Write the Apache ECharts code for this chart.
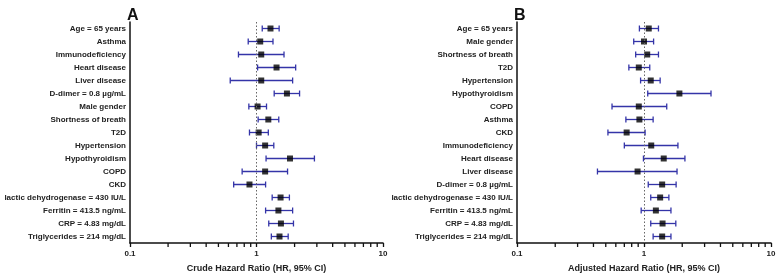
<!DOCTYPE html>
<html>
<head>
<meta charset="utf-8">
<script src="https://cdn.jsdelivr.net/npm/echarts@6/dist/echarts.min.js"></script>
<style>
  html, body { margin: 0; padding: 0; background: #fff; }
  #chart { width: 781px; height: 279px; }
</style>
</head>
<body>
<div id="chart"></div>
<script>
// Panel A - crude hazard ratios
const catsA = ['Age = 65 years', 'Asthma', 'Immunodeficiency', 'Heart disease', 'Liver disease',
  'D-dimer = 0.8 µg/mL', 'Male gender', 'Shortness of breath', 'T2D', 'Hypertension',
  'Hypothyroidism', 'COPD', 'CKD', 'lactic dehydrogenase = 430 IU/L', 'Ferritin = 413.5 ng/mL',
  'CRP = 4.83 mg/dL', 'Triglycerides = 214 mg/dL'];
const hrA   = [1.29, 1.07, 1.09, 1.44, 1.09, 1.74, 1.02, 1.24, 1.04, 1.17, 1.84, 1.17, 0.88, 1.55, 1.49, 1.56, 1.52];
const lowA  = [1.11, 0.86, 0.72, 1.02, 0.62, 1.38, 0.87, 1.03, 0.88, 1.00, 1.19, 0.77, 0.66, 1.33, 1.18, 1.25, 1.31];
const highA = [1.51, 1.35, 1.65, 2.04, 1.93, 2.19, 1.20, 1.50, 1.24, 1.37, 2.87, 1.76, 1.18, 1.82, 1.93, 1.96, 1.78];

// Panel B - adjusted hazard ratios
const catsB = ['Age = 65 years', 'Male gender', 'Shortness of breath', 'T2D', 'Hypertension',
  'Hypothyroidism', 'COPD', 'Asthma', 'CKD', 'Immunodeficiency', 'Heart disease', 'Liver disease',
  'D-dimer = 0.8 µg/mL', 'lactic dehydrogenase = 430 IU/L', 'Ferritin = 413.5 ng/mL',
  'CRP = 4.83 mg/dL', 'Triglycerides = 214 mg/dL'];
const hrB   = [1.09, 1.00, 1.06, 0.91, 1.13, 1.90, 0.91, 0.92, 0.73, 1.14, 1.43, 0.89, 1.39, 1.34, 1.24, 1.40, 1.39];
const lowB  = [0.92, 0.83, 0.86, 0.76, 0.94, 1.07, 0.56, 0.72, 0.52, 0.70, 0.99, 0.43, 1.08, 1.13, 0.95, 1.13, 1.18];
const highB = [1.30, 1.19, 1.30, 1.11, 1.34, 3.37, 1.51, 1.18, 1.02, 1.85, 2.10, 1.82, 1.79, 1.57, 1.63, 1.78, 1.63];

const minorTicks = [0.2, 0.3, 0.4, 0.5, 0.6, 0.7, 0.8, 0.9, 2, 3, 4, 5, 6, 7, 8, 9];
const axisNames = ['Crude Hazard Ratio (HR, 95% CI)', 'Adjusted Hazard Ratio (HR, 95% CI)'];

const fontFam = '"Liberation Sans", Arial, sans-serif';
const barColor = '#3434a8';

const chart = echarts.init(document.getElementById('chart'));

function xAxisFor(i) {
  return {
    gridIndex: i,
    type: 'log',
    logBase: 10,
    min: 0.1,
    max: 10,
    name: axisNames[i],
    nameLocation: 'middle',
    nameGap: 21,
    nameTextStyle: { fontFamily: fontFam, fontWeight: 'bold', fontSize: 9, color: '#222' },
    axisLine: { show: true, onZero: false, lineStyle: { color: '#111', width: 1.5 } },
    axisTick: { show: true, length: 4, lineStyle: { color: '#111', width: 1.3 } },
    axisLabel: { fontFamily: fontFam, fontWeight: 'bold', fontSize: 8, color: '#222', margin: 7,
      formatter: v => String(+(+v).toPrecision(3)) },
    splitLine: { show: false }
  };
}

function yAxisFor(i, cats) {
  return {
    gridIndex: i,
    type: 'category',
    data: cats,
    inverse: true,
    axisLine: { show: true, onZero: false, lineStyle: { color: '#111', width: 1.5 } },
    axisTick: { alignWithLabel: true, length: 3, lineStyle: { color: '#111', width: 1.3 } },
    axisLabel: { fontFamily: fontFam, fontWeight: 'bold', fontSize: 8, color: '#222', margin: 4, interval: 0 },
    splitLine: { show: false }
  };
}

function errorSeries(i, low, high) {
  return {
    type: 'custom',
    xAxisIndex: i,
    yAxisIndex: i,
    data: low.map((l, k) => [l, high[k], k]),
    encode: { x: [0, 1], y: 2 },
    renderItem: (params, api) => {
      const a = api.coord([api.value(0), api.value(2)]);
      const b = api.coord([api.value(1), api.value(2)]);
      const h = 3;
      const style = { stroke: barColor, lineWidth: 1.3 };
      return {
        type: 'group',
        children: [
          { type: 'line', shape: { x1: a[0], y1: a[1], x2: b[0], y2: b[1] }, style },
          { type: 'line', shape: { x1: a[0], y1: a[1] - h, x2: a[0], y2: a[1] + h }, style },
          { type: 'line', shape: { x1: b[0], y1: b[1] - h, x2: b[0], y2: b[1] + h }, style }
        ]
      };
    },
    z: 2
  };
}

function pointSeries(i, hr) {
  return {
    type: 'scatter',
    xAxisIndex: i,
    yAxisIndex: i,
    data: hr.map((v, k) => [v, k]),
    symbol: 'rect',
    symbolSize: 6,
    itemStyle: { color: '#000' },
    z: 3,
    markLine: {
      silent: true,
      symbol: 'none',
      label: { show: false },
      lineStyle: { color: '#666', type: [1.5, 2], width: 1 },
      data: [{ xAxis: 1 }]
    }
  };
}

function minorTickSeries(i) {
  return {
    type: 'custom',
    xAxisIndex: i,
    yAxisIndex: i,
    data: minorTicks.map(v => [v, 0]),
    encode: { x: 0, y: 1 },
    clip: false,
    silent: true,
    renderItem: (params, api) => {
      const p = api.coord([api.value(0), 0]);
      const y0 = params.coordSys.y + params.coordSys.height;
      return {
        type: 'line',
        shape: { x1: p[0], y1: y0, x2: p[0], y2: y0 + 4 },
        style: { stroke: '#111', lineWidth: 1.3 }
      };
    }
  };
}

const option = {
  animation: false,
  backgroundColor: '#fff',
  title: [
    { text: 'A', left: 122, top: 3, textStyle: { fontFamily: fontFam, fontWeight: 'bold', fontSize: 16, color: '#111' } },
    { text: 'B', left: 509, top: 3, textStyle: { fontFamily: fontFam, fontWeight: 'bold', fontSize: 16, color: '#111' } }
  ],
  grid: [
    { left: 130, right: 398, top: 22, bottom: 36 },
    { left: 517, right: 10, top: 22, bottom: 36 }
  ],
  xAxis: [xAxisFor(0), xAxisFor(1)],
  yAxis: [yAxisFor(0, catsA), yAxisFor(1, catsB)],
  series: [
    errorSeries(0, lowA, highA), pointSeries(0, hrA), minorTickSeries(0),
    errorSeries(1, lowB, highB), pointSeries(1, hrB), minorTickSeries(1)
  ]
};

chart.setOption(option);
</script>
</body>
</html>
